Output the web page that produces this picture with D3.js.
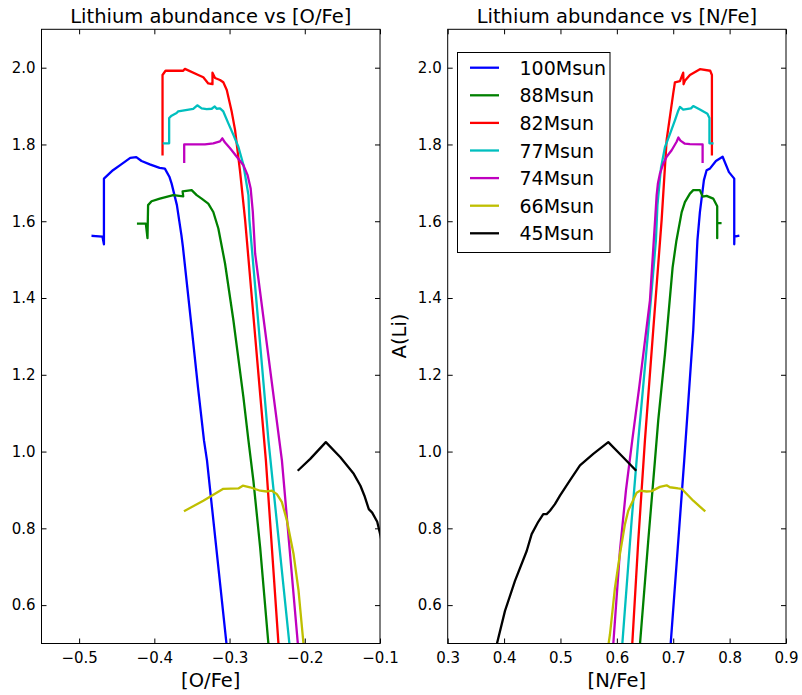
<!DOCTYPE html>
<html>
<head>
<meta charset="utf-8">
<script src="https://cdn.jsdelivr.net/npm/d3@7"></script>
<style>
  html, body { margin: 0; padding: 0; background: #fff; }
  svg { display: block; font-family: "DejaVu Sans", sans-serif; }
</style>
</head>
<body>
<script>
// Model labels and line colours
const models = ["100Msun", "88Msun", "82Msun", "77Msun", "74Msun", "66Msun", "45Msun"];
const colors = ["#0000ff", "#008000", "#ff0000", "#00bfbf", "#bf00bf", "#bfbf00", "#000000"];

// Tick values
const oFeTicks = [-0.5, -0.4, -0.3, -0.2, -0.1];
const nFeTicks = [0.3, 0.4, 0.5, 0.6, 0.7, 0.8, 0.9];
const liTicks = [0.6, 0.8, 1.0, 1.2, 1.4, 1.6, 1.8, 2.0];

// A(Li) against [O/Fe]
const m100_O = [[-0.482,1.562],[-0.469,1.560],[-0.467,1.540],[-0.467,1.711],[-0.455,1.733],[-0.444,1.748],[-0.432,1.765],[-0.424,1.767],[-0.417,1.757],[-0.406,1.748],[-0.393,1.739],[-0.386,1.737],[-0.380,1.716],[-0.377,1.698],[-0.370,1.642],[-0.364,1.564],[-0.362,1.533],[-0.350,1.316],[-0.342,1.168],[-0.334,1.029],[-0.330,0.977],[-0.304,0.498]];
const m88_O = [[-0.4216,1.594],[-0.4113,1.594],[-0.4091,1.556],[-0.4083,1.642],[-0.4037,1.652],[-0.3927,1.659],[-0.3749,1.668],[-0.3616,1.665],[-0.3624,1.678],[-0.3504,1.681],[-0.3437,1.668],[-0.3371,1.659],[-0.3283,1.646],[-0.3216,1.624],[-0.3149,1.581],[-0.306,1.490],[-0.2949,1.342],[-0.2816,1.142],[-0.2749,1.029],[-0.2683,0.924],[-0.2593,0.750],[-0.2483,0.498]];
const m82_O = [[-0.3891,1.774],[-0.3891,1.981],[-0.3851,1.992],[-0.3616,1.992],[-0.3593,1.997],[-0.3416,1.981],[-0.3349,1.975],[-0.3283,1.959],[-0.3227,1.957],[-0.3227,1.987],[-0.3193,1.973],[-0.3127,1.968],[-0.3083,1.962],[-0.3037,1.942],[-0.2971,1.885],[-0.2927,1.838],[-0.286,1.729],[-0.2793,1.603],[-0.2517,0.977],[-0.2349,0.497]];
const m77_O = [[-0.3873,1.803],[-0.3803,1.803],[-0.3803,1.869],[-0.3771,1.875],[-0.3704,1.882],[-0.3683,1.886],[-0.3483,1.893],[-0.3429,1.902],[-0.3371,1.894],[-0.3304,1.892],[-0.3237,1.893],[-0.3197,1.899],[-0.3171,1.893],[-0.3127,1.894],[-0.3083,1.886],[-0.3016,1.855],[-0.2949,1.825],[-0.2883,1.794],[-0.2816,1.747],[-0.2749,1.668],[-0.2736,1.603],[-0.2483,1.029],[-0.2203,0.497]];
const m74_O = [[-0.3603,1.755],[-0.3603,1.800],[-0.3483,1.800],[-0.3327,1.800],[-0.3216,1.803],[-0.3127,1.808],[-0.3096,1.816],[-0.306,1.805],[-0.2993,1.790],[-0.2904,1.768],[-0.2816,1.746],[-0.276,1.720],[-0.272,1.686],[-0.2691,1.625],[-0.266,1.516],[-0.2304,0.977],[-0.2091,0.497]];
const m66_O = [[-0.3593,0.846],[-0.3349,0.872],[-0.3083,0.903],[-0.2883,0.904],[-0.2824,0.911],[-0.2727,0.907],[-0.2593,0.898],[-0.2504,0.896],[-0.2437,0.898],[-0.2371,0.889],[-0.2304,0.868],[-0.2237,0.820],[-0.2149,0.733],[-0.2083,0.638],[-0.2016,0.497]];
const m45_O = [[-0.2083,0.952],[-0.1927,0.981],[-0.172,1.0245],[-0.1527,0.985],[-0.1349,0.942],[-0.126,0.911],[-0.1207,0.885],[-0.1149,0.850],[-0.1104,0.841],[-0.1037,0.817],[-0.0993,0.781],[-0.0953,0.737]];

// A(Li) against [N/Fe]
const m100_N = [[0.8153,1.562],[0.8085,1.560],[0.8082,1.540],[0.8082,1.711],[0.7988,1.728],[0.7876,1.768],[0.7757,1.757],[0.765,1.737],[0.7592,1.733],[0.7544,1.707],[0.7473,1.624],[0.7429,1.550],[0.7355,1.316],[0.7195,0.977],[0.6954,0.498]];
const m88_N = [[0.7837,1.595],[0.778,1.595],[0.778,1.556],[0.778,1.639],[0.7709,1.659],[0.7592,1.666],[0.7521,1.664],[0.7473,1.681],[0.7355,1.681],[0.7296,1.672],[0.7207,1.650],[0.7149,1.623],[0.7057,1.550],[0.6989,1.480],[0.6853,1.254],[0.6734,1.081],[0.6676,0.977],[0.6557,0.768],[0.641,0.498]];
const m82_N = [[0.7686,1.774],[0.7686,1.981],[0.7656,1.992],[0.7473,1.996],[0.7296,1.981],[0.7207,1.966],[0.7184,1.957],[0.7177,1.987],[0.7119,1.965],[0.703,1.962],[0.700,1.933],[0.6883,1.812],[0.6794,1.603],[0.6645,1.316],[0.6498,1.029],[0.638,0.768],[0.6273,0.498]];
const m77_N = [[0.7695,1.803],[0.7642,1.803],[0.7642,1.869],[0.7606,1.880],[0.7473,1.891],[0.7355,1.900],[0.7314,1.894],[0.7177,1.891],[0.7119,1.898],[0.7089,1.888],[0.703,1.863],[0.6941,1.827],[0.6853,1.793],[0.6782,1.738],[0.672,1.642],[0.6693,1.550],[0.6557,1.316],[0.638,1.029],[0.6262,0.820],[0.6096,0.497]];
const m74_N = [[0.7521,1.755],[0.7521,1.800],[0.7296,1.801],[0.7207,1.802],[0.7128,1.810],[0.7092,1.818],[0.706,1.807],[0.6972,1.785],[0.6883,1.768],[0.6823,1.750],[0.6764,1.724],[0.6729,1.699],[0.6706,1.668],[0.6684,1.616],[0.6587,1.394],[0.6397,1.168],[0.6273,1.029],[0.6161,0.898],[0.6055,0.742],[0.5936,0.497]];
const m66_N = [[0.7553,0.846],[0.7355,0.872],[0.7149,0.903],[0.7089,0.904],[0.6941,0.907],[0.6883,0.912],[0.6764,0.908],[0.6617,0.897],[0.6528,0.896],[0.641,0.898],[0.6351,0.893],[0.6291,0.874],[0.6202,0.846],[0.6144,0.811],[0.6055,0.733],[0.5966,0.645],[0.5878,0.524],[0.5851,0.497]];
const m45_N = [[0.633,0.952],[0.6085,0.989],[0.5848,1.0245],[0.5582,0.994],[0.5346,0.964],[0.5168,0.925],[0.4991,0.885],[0.4902,0.863],[0.4814,0.846],[0.4755,0.837],[0.4695,0.837],[0.4606,0.817],[0.4489,0.785],[0.4401,0.741],[0.4193,0.663],[0.4016,0.585],[0.3869,0.497]];

const oFeSeries = [m100_O, m88_O, m82_O, m77_O, m74_O, m66_O, m45_O];
const nFeSeries = [m100_N, m88_N, m82_N, m77_N, m74_N, m66_N, m45_N];

const W = 802, H = 695;
const plotTop = 29.3, plotBottom = 643.5;

const svg = d3.select("body").append("svg")
  .attr("width", W).attr("height", H);
svg.append("rect").attr("width", W).attr("height", H).attr("fill", "#fff");

const fmt = d3.format(".1f");

function panel(id, left, right, xDomain, xTicks, title, xLabel, series) {
  const x = d3.scaleLinear().domain(xDomain).range([left, right]);
  const y = d3.scaleLinear().domain([0.5, 2.1]).range([plotBottom, plotTop]);
  const g = svg.append("g");

  svg.append("clipPath").attr("id", id)
    .append("rect")
    .attr("x", left).attr("y", plotTop)
    .attr("width", right - left).attr("height", plotBottom - plotTop);

  const line = d3.line().x(d => x(d[0])).y(d => y(d[1]));
  g.append("g").attr("clip-path", `url(#${id})`)
    .selectAll("path").data(series).join("path")
    .attr("d", line)
    .attr("fill", "none")
    .attr("stroke", (d, i) => colors[i])
    .attr("stroke-width", 2.3)
    .attr("stroke-linejoin", "round")
    .attr("stroke-linecap", "square");

  const styleAxis = sel => {
    sel.select(".domain").remove();
    sel.selectAll(".tick line").attr("stroke", "#000").attr("stroke-width", 1);
    sel.selectAll(".tick text")
      .attr("fill", "#000")
      .attr("font-size", 15)
      .attr("font-family", "DejaVu Sans, sans-serif");
  };

  g.append("g").attr("transform", `translate(0,${plotBottom})`)
    .call(d3.axisBottom(x).tickValues(xTicks).tickFormat(fmt)
      .tickSizeInner(-5).tickSizeOuter(0).tickPadding(9))
    .call(styleAxis);
  g.append("g").attr("transform", `translate(0,${plotTop})`)
    .call(d3.axisTop(x).tickValues(xTicks).tickFormat("")
      .tickSizeInner(-5).tickSizeOuter(0))
    .call(styleAxis);
  g.append("g").attr("transform", `translate(${left},0)`)
    .call(d3.axisLeft(y).tickValues(liTicks).tickFormat(fmt)
      .tickSizeInner(-5).tickSizeOuter(0).tickPadding(6))
    .call(styleAxis);
  g.append("g").attr("transform", `translate(${right},0)`)
    .call(d3.axisRight(y).tickValues(liTicks).tickFormat("")
      .tickSizeInner(-5).tickSizeOuter(0))
    .call(styleAxis);

  g.append("rect")
    .attr("x", left).attr("y", plotTop)
    .attr("width", right - left).attr("height", plotBottom - plotTop)
    .attr("fill", "none").attr("stroke", "#000").attr("stroke-width", 1);

  g.append("text")
    .attr("x", (left + right) / 2).attr("y", 23)
    .attr("text-anchor", "middle").attr("font-size", 19.5)
    .text(title);
  g.append("text")
    .attr("x", (left + right) / 2).attr("y", 687)
    .attr("text-anchor", "middle").attr("font-size", 19.5)
    .text(xLabel);

  return { x, y, g };
}

panel("clipO", 41.5, 380, [-0.55, -0.1], oFeTicks,
  "Lithium abundance vs [O/Fe]", "[O/Fe]", oFeSeries);
panel("clipN", 447.7, 786, [0.3, 0.9], nFeTicks,
  "Lithium abundance vs [N/Fe]", "[N/Fe]", nFeSeries);

// y-axis label
svg.append("text")
  .attr("transform", "translate(406,336) rotate(-90)")
  .attr("text-anchor", "middle").attr("font-size", 19.5)
  .text("A(Li)");

// legend
const lg = svg.append("g");
lg.append("rect")
  .attr("x", 457.5).attr("y", 52.5).attr("width", 152.5).attr("height", 200)
  .attr("fill", "#fff").attr("stroke", "#000").attr("stroke-width", 1);
const rows = lg.selectAll("g.row").data(models).join("g")
  .attr("class", "row")
  .attr("transform", (d, i) => `translate(0,${67.7 + i * 27.6})`);
rows.append("line")
  .attr("x1", 470).attr("x2", 499).attr("y1", 0).attr("y2", 0)
  .attr("stroke", (d, i) => colors[i]).attr("stroke-width", 2.3);
rows.append("text")
  .attr("x", 519.5).attr("y", 7)
  .attr("font-size", 19)
  .text(d => d);
</script>
</body>
</html>
